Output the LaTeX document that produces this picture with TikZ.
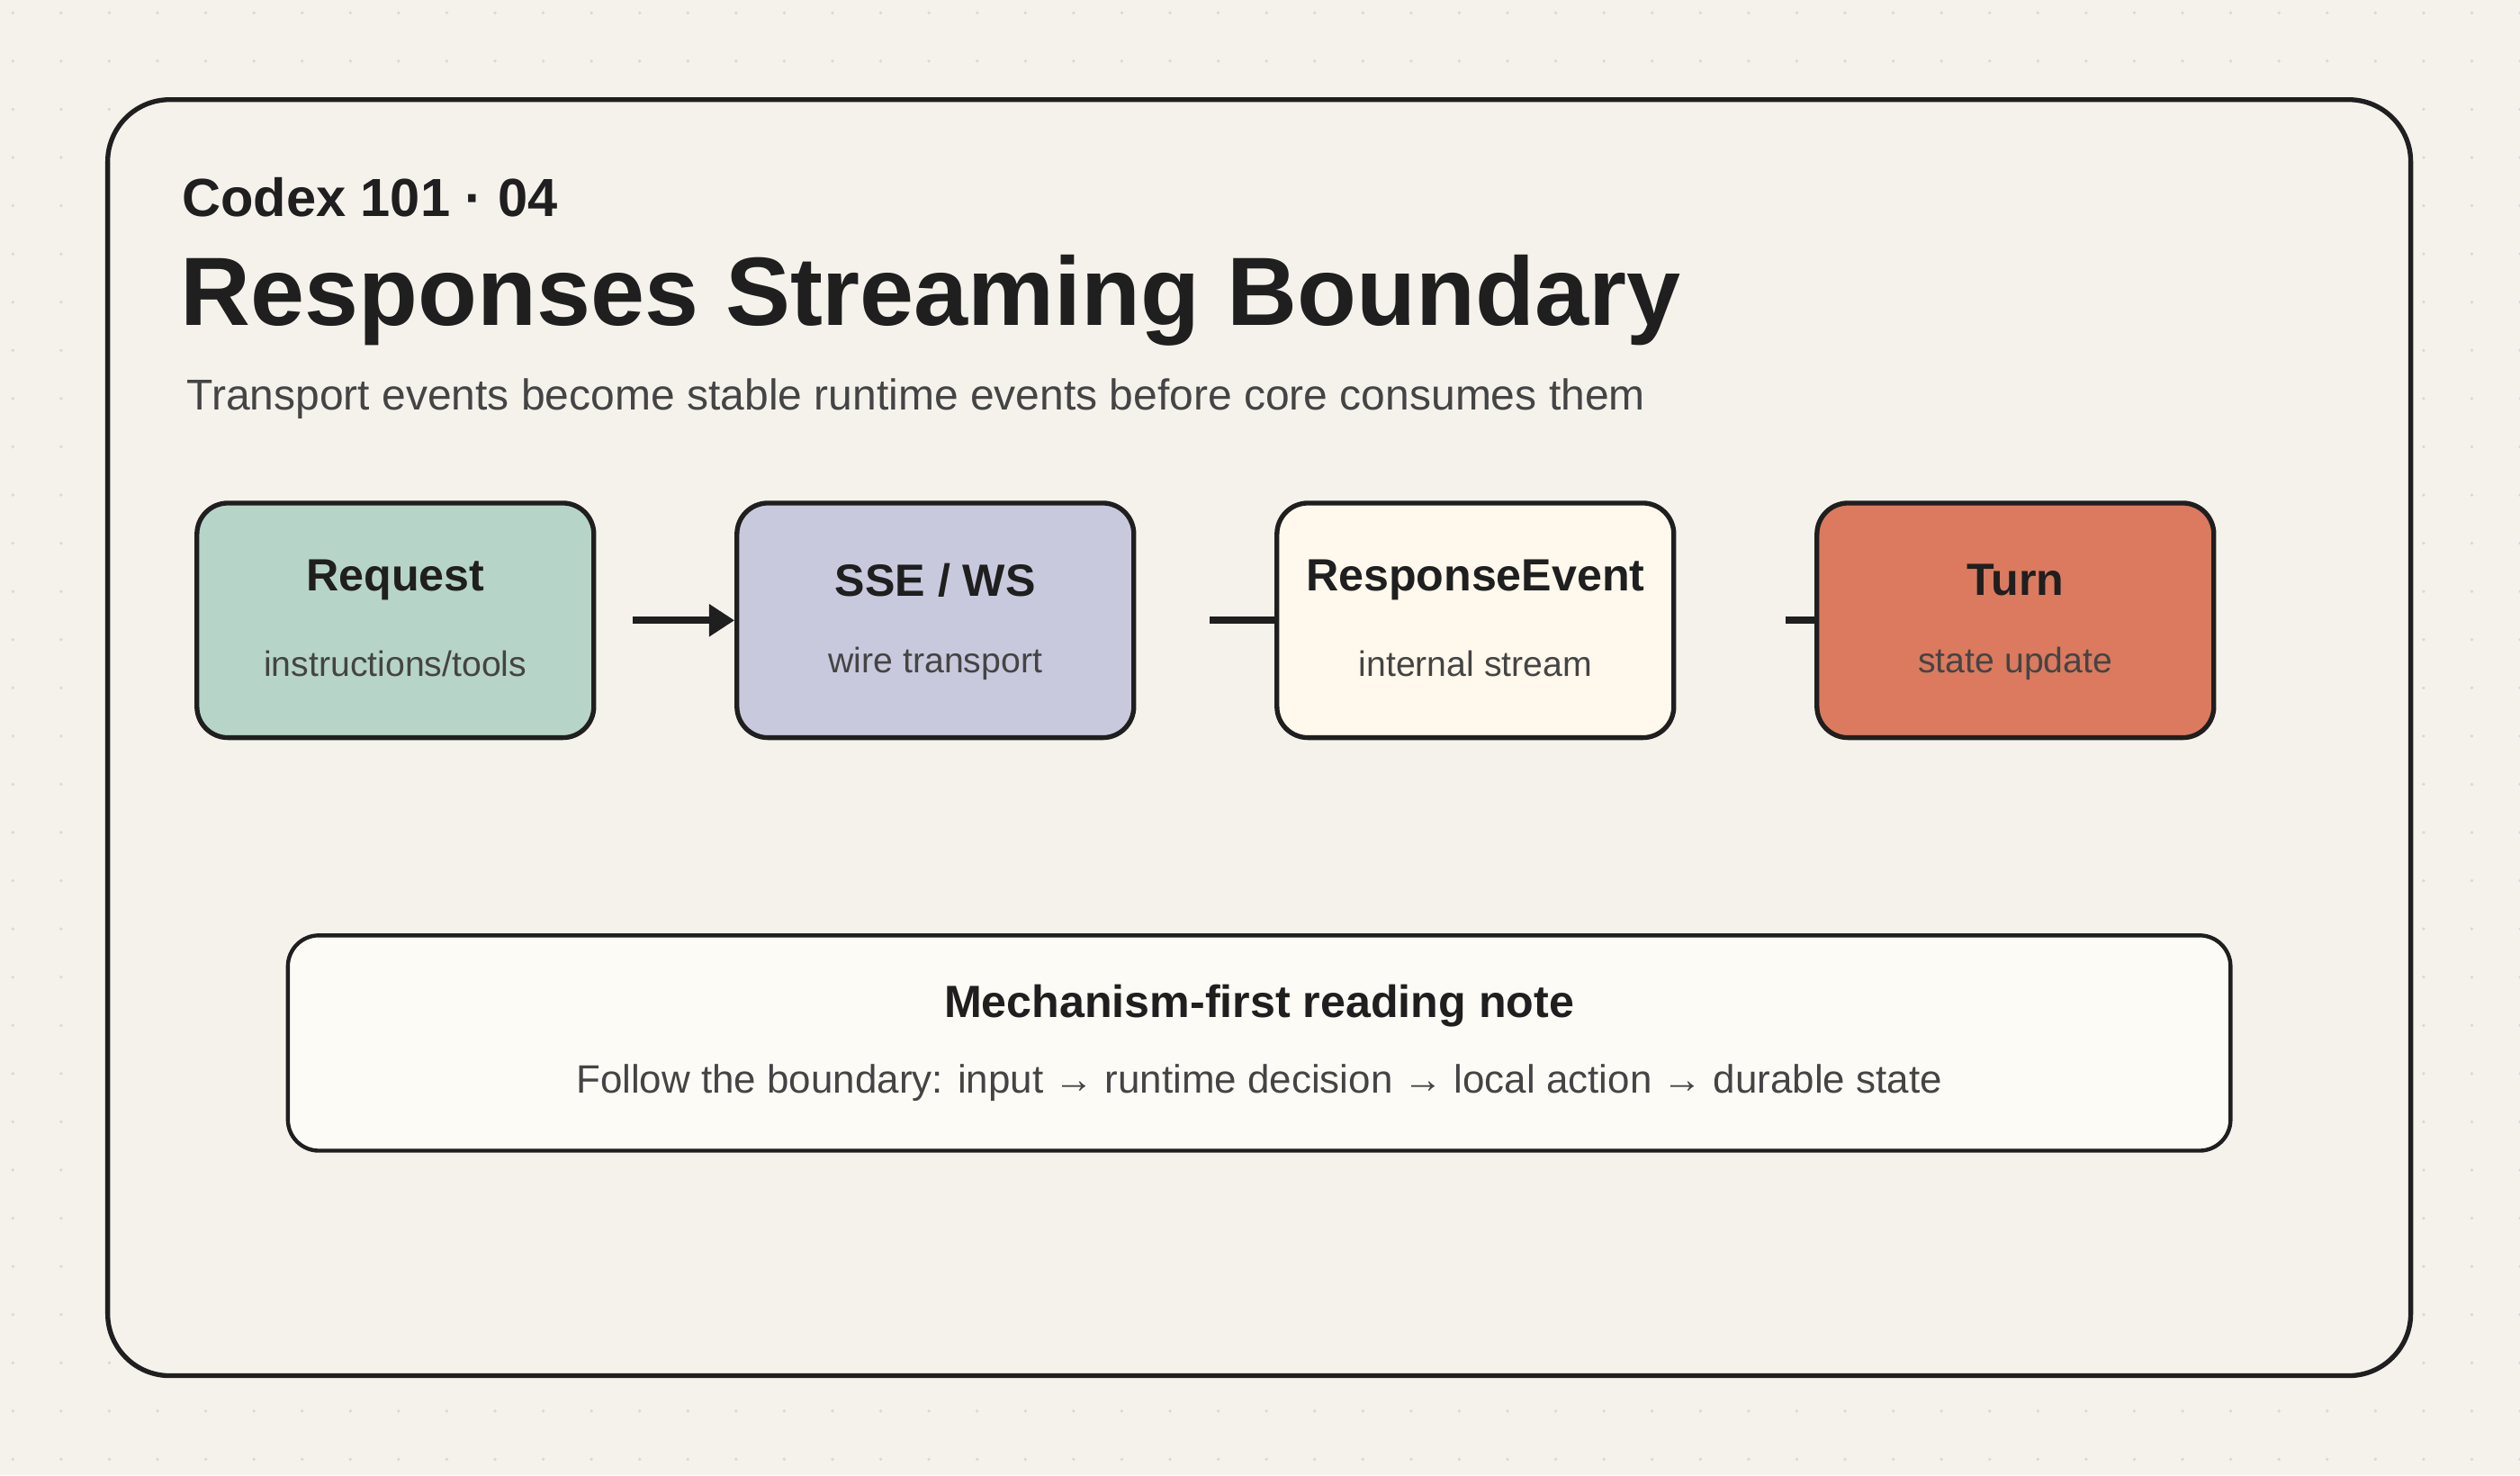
\documentclass[tikz,border=0pt]{standalone}
\usepackage{fontspec}
\setmainfont{Liberation Sans}
\usetikzlibrary{positioning,arrows.meta}
\definecolor{bgc}{HTML}{F5F2EC}
\definecolor{ink}{HTML}{1F1F1F}
\definecolor{muted}{HTML}{444444}
\definecolor{reqc}{HTML}{B7D4C8}
\definecolor{ssec}{HTML}{C8C9DD}
\definecolor{evc}{HTML}{FFF8EC}
\definecolor{turnc}{HTML}{DB7A5E}
\definecolor{notec}{HTML}{FDFBF6}
\begin{document}
\begin{tikzpicture}[
  x=0.02cm, y=-0.02cm,
  stage/.style={draw=ink,line width=1.7pt,rounded corners=11pt,minimum width=4.94cm,minimum height=2.92cm},
  stitle/.style={font=\bfseries\fontsize{16}{19}\selectfont,text=ink},
  ssub/.style={font=\fontsize{12.5}{15}\selectfont,text=muted},
  conn/.style={draw=ink,line width=2.6pt}
]
\fill[bgc] (0,0) rectangle (1568,918);
\useasboundingbox (0,0) rectangle (1568,918);
\foreach \i in {0,...,52} \foreach \j in {0,...,30}
  \fill[black!15] (\i*30+8,\j*30+8) circle (0.6pt);
\draw[ink,line width=1.7pt,fill=bgc,rounded corners=22pt] (67,62) rectangle (1500,856);

\node[anchor=west,font=\bfseries\fontsize{19}{22}\selectfont,text=ink] (kicker) at (107,123) {Codex 101 · 04};
\node[anchor=west,font=\bfseries\fontsize{34.4}{40}\selectfont,text=ink] (title) at (106,187) {Responses Streaming Boundary};
\node[anchor=west,font=\fontsize{15.3}{18}\selectfont,text=muted] (subtitle) at (110,248) {Transport events become stable runtime events before core consumes them};

\node[stage,fill=reqc] (req) at (246,386) {};
\node[stage,fill=ssec] (sse) at (582,386) {};
\node[stage,fill=evc] (ev) at (918,386) {};
\node[stage,fill=turnc] (turn) at (1254,386) {};
\foreach \n/\t/\s in {req/Request/instructions\slash tools, sse/{SSE / WS}/wire transport, ev/ResponseEvent/internal stream, turn/Turn/state update}{
  \node[stitle] at ([yshift=0.5cm]\n.center) {\t};
  \node[ssub] at ([yshift=-0.54cm]\n.center) {\s};
}

\draw[conn,-{Triangle[length=9pt,width=11pt]},shorten <=13pt] (req) -- (sse);
\draw[conn,shorten <=26pt] (sse) -- (ev);
\draw[conn,shorten <=38.6pt] (ev) -- (turn);

\node[draw=ink,line width=1.4pt,fill=notec,rounded corners=11pt,minimum width=24.18cm,minimum height=2.68cm] (note) at (783.5,649) {};
\node[font=\bfseries\fontsize{16}{19}\selectfont,text=ink] at ([yshift=0.46cm]note.center) {Mechanism-first reading note};
\node[font=\fontsize{14}{17}\selectfont,text=muted] at ([yshift=-0.5cm]note.center) {Follow the boundary: input → runtime decision → local action → durable state};
\end{tikzpicture}
\end{document}
